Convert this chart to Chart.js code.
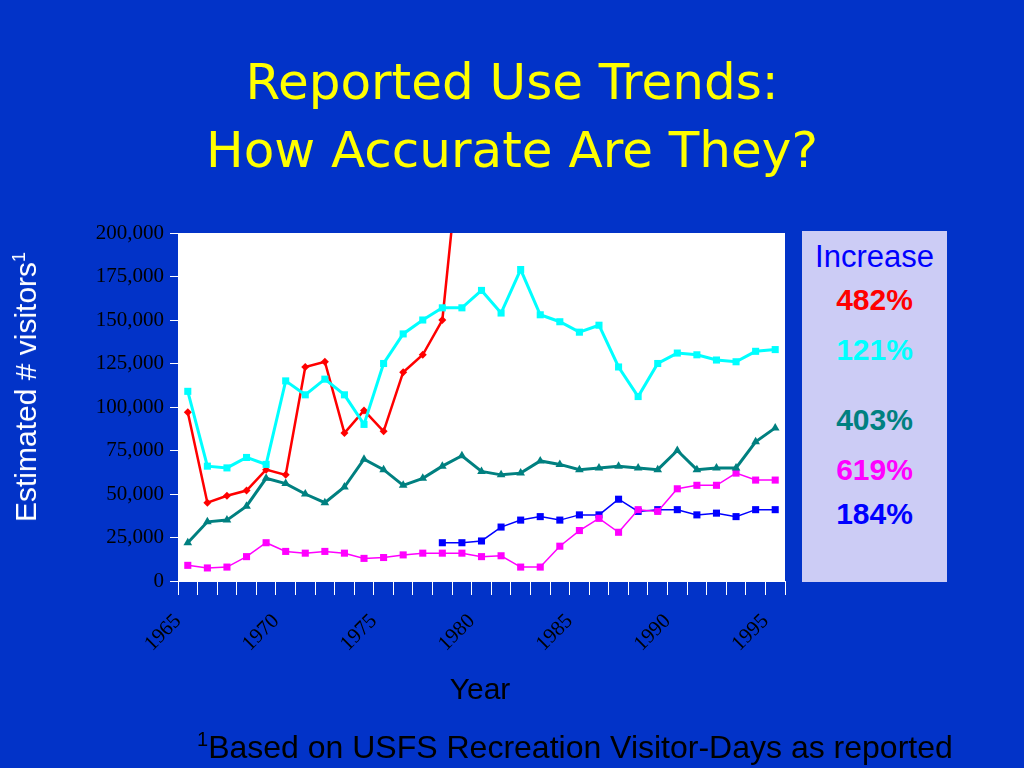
<!DOCTYPE html><html><head><meta charset="utf-8">
<script src="https://cdn.jsdelivr.net/npm/chart.js@4"></script>
<style>
body{margin:0;width:1024px;height:768px;background:#0233c8;overflow:hidden;position:relative;font-family:"Liberation Sans",Arial,sans-serif}
#t{position:absolute;top:48px;left:0;width:1024px;text-align:center;color:#ffff00;font-family:"DejaVu Sans",sans-serif;font-size:50px;line-height:68px}
#c{position:absolute;left:0;top:0}
#box{position:absolute;left:802px;top:231px;width:145px;height:351px;background:#ccccf5}
.p{position:absolute;left:0;width:145px;text-align:center;font-weight:bold;font-size:30px}
#yl{position:absolute;left:26px;top:387px;transform:translate(-50%,-50%) rotate(-90deg);color:#fff;font-size:30px;white-space:nowrap}
#xl{position:absolute;left:480px;top:672px;transform:translateX(-50%);font-size:30px;color:#000}
#fn{position:absolute;left:197px;top:728px;font-size:32px;color:#000;white-space:nowrap}
</style></head><body>
<div id="t">Reported Use Trends:<br>How Accurate Are They?</div>
<canvas id="c" width="1024" height="768"></canvas>
<div id="box"><div class="p" style="top:8px;color:#0000ff;font-weight:normal;font-size:31px">Increase</div>
<div class="p" style="top:52px;color:#ff0000">482%</div>
<div class="p" style="top:102px;color:#00ffff">121%</div>
<div class="p" style="top:172px;color:#008080">403%</div>
<div class="p" style="top:222px;color:#ff00ff">619%</div>
<div class="p" style="top:266px;color:#0000ff">184%</div></div>
<div id="yl">Estimated # visitors<sup style="font-size:18px">1</sup></div>
<div id="xl">Year</div>
<div id="fn"><sup style="font-size:20px">1</sup>Based on USFS Recreation Visitor-Days as reported</div>
<script>
const years=[1966,1967,1968,1969,1970,1971,1972,1973,1974,1975,1976,1977,1978,1979,1980,1981,1982,1983,1984,1985,1986,1987,1988,1989,1990,1991,1992,1993,1994,1995,1996];
const cyan=[109,66,65,71,67,115,107,116,107,90,125,142,150,157,157,167,154,179,153,149,143,147,123,106,125,131,130,127,126,132,133];
const red=[97,45,49,52,64,61,123,126,85,98,86,120,130,150,260];
const teal=[22,34,35,43,59,56,50,45,54,70,64,55,59,66,72,63,61,62,69,67,64,65,66,65,64,75,64,65,65,80,88];
const magenta=[9,7.5,8,14,22,17,16,17,16,13,13.5,15,16,16,16,14,14.5,8,8,20,29,36,28,41,40,53,55,55,62,58,58];
const blueStart=1979;
const blue=[22,22,23,31,35,37,35,38,38,47,40,41,41,38,39,37,41,41];
const pts=(ys,arr)=>arr.map((v,i)=>({x:ys[i],y:v*1000}));
const ds=(label,data,color,style,r,w)=>({label,data,borderColor:color,backgroundColor:color,pointStyle:style,pointRadius:r,borderWidth:w,pointBorderWidth:0,clip:0});
new Chart(document.getElementById('c'),{type:'line',
data:{datasets:[
ds('cyan',pts(years,cyan),'#00ffff','rect',5,3),
ds('red',pts(years,red),'#ff0000','rectRot',4,2.5),
ds('teal',pts(years,teal),'#008080','triangle',5,3),
ds('magenta',pts(years,magenta),'#ff00ff','rect',5,1.5),
ds('blue',pts(years.slice(years.indexOf(blueStart)),blue),'#0000ff','rect',5,1.5)]},
options:{responsive:false,animation:false,
layout:{padding:{left:0,right:239,top:233,bottom:0}},
plugins:{legend:{display:false},tooltip:{enabled:false}},
scales:{
x:{type:'linear',min:1965.5,max:1996.5,position:'bottom',
afterBuildTicks:a=>{a.ticks=[];for(let v=1965.5;v<=1996.5;v++)a.ticks.push({value:v});},
afterFit:a=>{a.height=187;},
grid:{display:true,drawOnChartArea:false,color:'#ffffff',tickLength:14},
border:{color:'#ffffff'},
ticks:{autoSkip:false,padding:14,maxRotation:45,minRotation:45,color:'#000',font:{family:'Liberation Serif',size:21},
callback:v=>{const y=Math.round(v-0.5);return y%5===0?String(y):'';}}},
y:{min:0,max:200000,afterBuildTicks:a=>{a.ticks=[];for(let v=0;v<=200000;v+=25000)a.ticks.push({value:v});},
afterFit:a=>{a.width=178;},
grid:{drawOnChartArea:false,color:'#ffffff',tickLength:8},border:{color:'#ffffff'},
ticks:{color:'#000',padding:6,font:{family:'Liberation Serif',size:21},callback:v=>v.toLocaleString('en-US')}}}},
plugins:[{id:'bg',beforeDatasetsDraw(c){const a=c.chartArea,x=c.ctx;x.save();x.fillStyle='#fff';x.fillRect(a.left,a.top,a.right-a.left,a.bottom-a.top);x.restore();}}]});
</script></body></html>
